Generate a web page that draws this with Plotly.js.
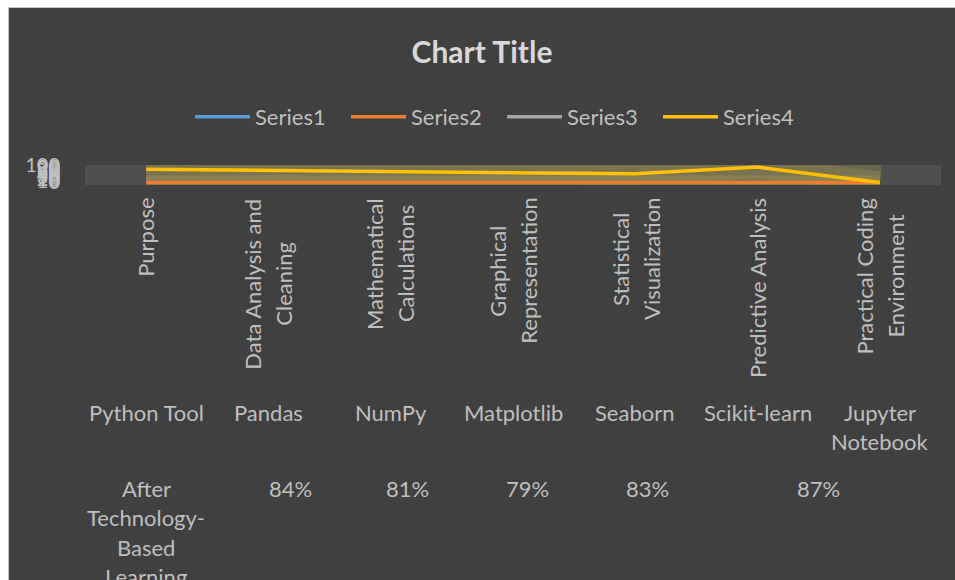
<!DOCTYPE html>
<html><head><meta charset="utf-8">
<script src="https://cdn.plot.ly/plotly-3.0.1.min.js"></script>
<style>
html,body{margin:0;padding:0;background:#ffffff;overflow:hidden;}
#wrap{position:absolute;left:8px;top:7px;width:947px;height:573px;border-top:1px solid #c4c4c4;border-left:1px solid #c4c4c4;overflow:hidden;background:#404040;}
#chart{width:946px;height:572px;}
</style></head><body><div id="wrap"><div id="chart"></div></div>
<script>
// ---- data ----
const purposes = ["Purpose", "Data Analysis and|Cleaning", "Mathematical|Calculations", "Graphical|Representation", "Statistical|Visualization", "Predictive Analysis", "Practical Coding|Environment"];
const tools = ["Python Tool", "Pandas", "NumPy", "Matplotlib", "Seaborn", "Scikit-learn", "Jupyter|Notebook"];
const afterLabels = ["After|Technology-|Based|Learning", "84%", "81%", "79%", "83%", "87%"];
const afterSpans = [[0, 0], [1, 1], [2, 2], [3, 3], [4, 4], [5, 6]];
const series1 = [null, null, null, null, null, null, null];
const series2 = [0, 0, 0, 0, 0, 0, 0];
const series3 = [null, null, null, null, null, null, null];
const series4 = [75, 69, 64, 55, 49, 88, 0];
const yTicks = [0, 10, 20, 30, 40, 50, 60, 70, 80, 90, 100];
const seriesNames = ["Series1", "Series2", "Series3", "Series4"];

// ---- style ----
const FONT = "Lato";
const TXT = "#bfbfbf";
const FS = 22;
const colors = ["#5B9BD5", "#ED7D31", "#A5A5A5", "#FFC000"];
const xIdx = purposes.map((_, i) => i);
const PLOT_BOTTOM = 185; // page y of plot bottom

const ctx = document.createElement("canvas").getContext("2d");
ctx.font = FS + "px " + FONT;
const tw = s => ctx.measureText(s).width;

const annotations = [];
function ann(x, text, yPage, extra) {
  annotations.push(Object.assign({
    x: x, xref: "x", y: 0, yref: "paper", text: text, showarrow: false,
    xanchor: "center", yanchor: "middle", yshift: -(yPage - PLOT_BOTTOM),
    font: {family: FONT, size: FS, color: TXT}
  }, extra || {}));
}
// level 1: rotated
purposes.forEach((p, i) => {
  const lines = p.split("|");
  const L = Math.max(...lines.map(tw));
  const cy = 198 + L / 2;
  lines.forEach((ln, j) => {
    ann(i, ln, cy, {textangle: -90, xshift: (j - (lines.length - 1) / 2) * 31});
  });
});
// level 2
tools.forEach((t, i) => {
  t.split("|").forEach((ln, j) => ann(i, ln, 412 + j * 29));
});
// level 3
const afterShift = [0, 22, 17, 14, 12, 0];
afterLabels.forEach((t, k) => {
  const xc = (afterSpans[k][0] + afterSpans[k][1]) / 2;
  t.split("|").forEach((ln, j) => ann(xc, ln, 488 + j * 29.5, {xshift: afterShift[k]}));
});

const glow = {type: "scatter", mode: "lines", x: xIdx, showlegend: false, hoverinfo: "skip"};
const data = [
  Object.assign({}, glow, {y: series4, line: {color: "rgba(215,200,90,0.18)", width: 44}}),
  Object.assign({}, glow, {y: series4, line: {color: "rgba(215,200,90,0.16)", width: 22}}),
  Object.assign({}, glow, {y: series2, line: {color: "rgba(200,180,90,0.22)", width: 14}}),
];
[series1, series2, series3, series4].forEach((s, k) => {
  data.push({type: "scatter", mode: "lines", name: seriesNames[k], x: xIdx, y: s,
    line: {color: colors[k], width: 3.5}, hoverinfo: "skip"});
});

const layout = {
  width: 946, height: 572,
  paper_bgcolor: "#404040", plot_bgcolor: "#4f4f4f",
  margin: {l: 76, r: 14, t: 157, b: 395},
  font: {family: FONT, color: TXT},
  title: {text: "Chart Title", font: {family: FONT, size: 30, color: "#d9d9d9", weight: "bold"},
    x: 0.5, xref: "container", xanchor: "center", y: 1 - 44 / 572, yref: "container", yanchor: "middle"},
  showlegend: true,
  legend: {orientation: "h", xref: "container", x: (190 - 9) / 946, xanchor: "left", yref: "container",
    y: 1 - 109 / 572, yanchor: "middle", font: {family: FONT, size: 22, color: TXT},
    bgcolor: "rgba(0,0,0,0)", itemwidth: 55, entrywidth: 86},
  xaxis: {range: [-0.5, 6.5], showticklabels: false, showgrid: false, zeroline: false, showline: false, ticks: "", fixedrange: true},
  yaxis: {range: [-15, 100], tickmode: "array", tickvals: yTicks, showgrid: false, zeroline: false, showline: false,
    ticks: "", ticklabelstandoff: 24, tickfont: {family: FONT, size: 20, color: TXT}, fixedrange: true},
  annotations: annotations
};
Plotly.newPlot("chart", data, layout, {displayModeBar: false, staticPlot: true});
</script></body></html>
